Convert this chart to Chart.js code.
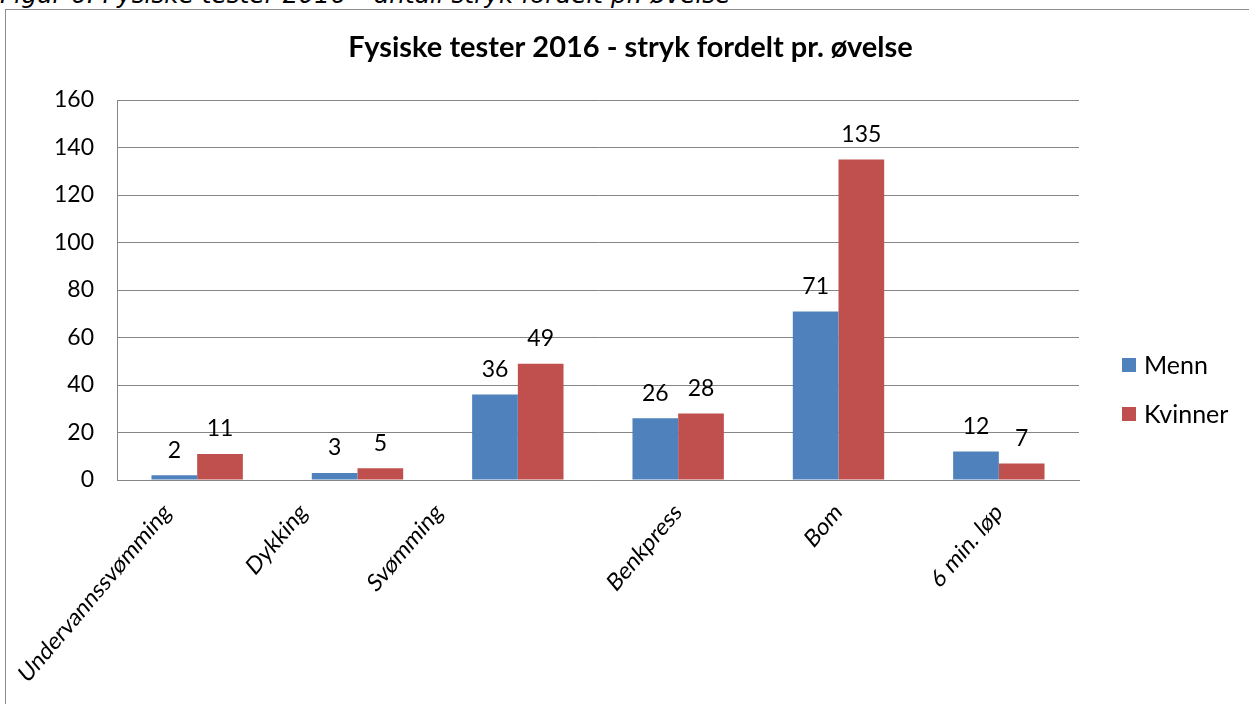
<!DOCTYPE html>
<html>
<head>
<meta charset="utf-8">
<script src="https://cdn.jsdelivr.net/npm/chart.js@4.4.0/dist/chart.umd.min.js"></script>
<style>
  html, body { margin: 0; padding: 0; background: #fff; overflow: hidden; }
  body { width: 1249px; height: 704px; position: relative; }
  #caption {
    position: absolute; left: 0; top: -14px; white-space: nowrap;
    font-family: "DejaVu Sans", Verdana, sans-serif; font-style: italic;
    font-size: 24.8px; line-height: 18px; color: #000;
  }
  #frame {
    position: absolute; left: 5px; top: 9px; width: 1260px; height: 720px;
    border: 1px solid #8c8c8c; background: #fff;
  }
  #wrap { position: absolute; left: 0; top: 0; width: 1249px; height: 700px; }
</style>
</head>
<body>
<div id="caption">Figur 6: Fysiske tester 2016 – antall stryk fordelt pr. øvelse</div>
<div id="frame"><div id="wrap"><canvas id="chart"></canvas></div></div>
<script>
const categories = ['Undervannssvømming', 'Dykking', 'Svømming', 'Benkpress', 'Bom', '6 min. løp'];
const menn = [2, 3, 36, 26, 71, 12];
const kvinner = [11, 5, 49, 28, 135, 7];
const yTicks = [0, 20, 40, 60, 80, 100, 120, 140, 160];
const chartTitle = 'Fysiske tester 2016 - stryk fordelt pr. øvelse';

const FONT = 'Lato, "Open Sans", sans-serif';

// Excel pushes some of the rotated labels sideways; rough per-label nudges
const labelShift = [-30, -54, -79, 0, 0, 0];

const overlay = {
  id: 'overlay',
  afterDatasetsDraw(chart) {
    const ctx = chart.ctx;
    const area = chart.chartArea;
    ctx.save();
    ctx.fillStyle = '#000';

    // title, centred on the whole canvas (legend sits outside the plot)
    ctx.font = 'bold 29px ' + FONT;
    ctx.textAlign = 'center';
    ctx.textBaseline = 'middle';
    ctx.fillText(chartTitle, chart.width / 2, 38);

    // value labels over the bars
    ctx.font = '23px ' + FONT;
    chart.data.datasets.forEach((ds, di) => {
      chart.getDatasetMeta(di).data.forEach((bar, i) => {
        ctx.fillText(String(ds.data[i]), bar.x, bar.y - 25);
      });
    });

    // rotated category labels
    const xs = chart.scales.x;
    ctx.font = '21px ' + FONT;
    ctx.textAlign = 'right';
    ctx.textBaseline = 'middle';
    categories.forEach((c, i) => {
      ctx.save();
      ctx.translate(xs.getPixelForValue(i) + labelShift[i], area.bottom + 28);
      ctx.scale(1, 1.18);
      ctx.rotate(-Math.PI / 4);
      ctx.fillText(c, 0, 0);
      ctx.restore();
    });

    // legend
    ctx.font = '25px ' + FONT;
    ctx.textAlign = 'left';
    const lx = area.right + 43;
    chart.data.datasets.forEach((ds, di) => {
      const cy = 355 + di * 49;
      ctx.fillStyle = ds.backgroundColor;
      ctx.fillRect(lx, cy - 7, 14, 14);
      ctx.fillStyle = '#000';
      ctx.fillText(ds.label, lx + 22, cy + 1);
    });
    ctx.restore();
  }
};

new Chart(document.getElementById('chart'), {
  type: 'bar',
  data: {
    labels: categories,
    datasets: [
      { label: 'Menn', data: menn, backgroundColor: '#4f81bd' },
      { label: 'Kvinner', data: kvinner, backgroundColor: '#c0504d' }
    ]
  },
  options: {
    responsive: true,
    maintainAspectRatio: false,
    animation: false,
    layout: { padding: { left: 0, right: 176, top: 90, bottom: 0 } },
    datasets: { bar: { categoryPercentage: 0.57, barPercentage: 1 } },
    plugins: {
      legend: { display: false },
      tooltip: { enabled: false },
      title: { display: false }
    },
    scales: {
      x: {
        grid: { display: false },
        border: { display: true, color: '#868686' },
        ticks: { display: false },
        afterFit: s => { s.height = 230; }
      },
      y: {
        min: 0,
        max: 160,
        afterBuildTicks: s => { s.ticks = yTicks.map(v => ({ value: v })); },
        grid: { color: '#868686', drawTicks: false },
        border: { display: true, color: '#868686' },
        ticks: { color: '#000', padding: 23, font: { family: FONT, size: 23 } },
        afterFit: s => { s.width = 111; }
      }
    }
  },
  plugins: [overlay]
});
</script>
</body>
</html>
